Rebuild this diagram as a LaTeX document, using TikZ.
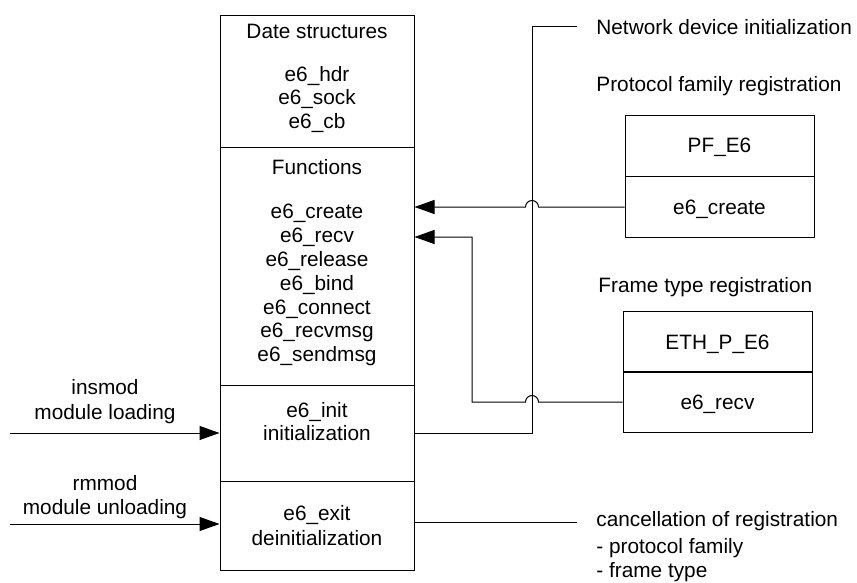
\documentclass[tikz,border=0pt]{standalone}
\usepackage{fontspec}
\setmainfont{Liberation Sans}
\usetikzlibrary{arrows.meta}
\begin{document}
\begin{tikzpicture}[x=0.5pt,y=-0.5pt,
  every node/.style={font=\fontsize{10.4}{12}\selectfont, inner sep=0pt},
  sec/.style={draw=black, line width=0.5pt, minimum width=97pt, inner sep=0pt},
  regbox/.style={draw=black, line width=0.5pt, minimum width=94.5pt, minimum height=30.5pt},
  wire/.style={draw=black, line width=0.5pt},
  arr/.style={wire, -{Triangle[length=10pt,width=7pt]}},
  txt/.style={anchor=base},
  lbl/.style={anchor=base west}
]
\useasboundingbox[fill=white] (0,0) rectangle (857,583);

% main module box, four stacked sections
\node[sec, minimum height=66pt]    (ds)   at (317,82) {};
\node[sec, minimum height=118.5pt] (fn)   at (317,266.5) {};
\node[sec, minimum height=48pt]    (init) at (317,433) {};
\node[sec, minimum height=44.5pt]  (exit) at (317,525.5) {};

\node[txt] (dsT) at (317,38.5)  {Date structures};
\node[txt] (ds1) at (317,81.5)  {e6\_hdr};
\node[txt] (ds2) at (317,104.5) {e6\_sock};
\node[txt] (ds3) at (317,128.5) {e6\_cb};

\node[txt] (fnT) at (317,174.5) {Functions};
\node[txt] (fn1) at (317,218.5) {e6\_create};
\node[txt] (fn2) at (317,242.5) {e6\_recv};
\node[txt] (fn3) at (317,266.5) {e6\_release};
\node[txt] (fn4) at (317,290.5) {e6\_bind};
\node[txt] (fn5) at (317,314.5) {e6\_connect};
\node[txt] (fn6) at (317,337.5) {e6\_recvmsg};
\node[txt] (fn7) at (317,361.5) {e6\_sendmsg};

\node[txt] (in1) at (317,417.5) {e6\_init};
\node[txt] (in2) at (317,440.5) {initialization};
\node[txt] (ex1) at (317,520.5) {e6\_exit};
\node[txt] (ex2) at (317,545.5) {deinitialization};

% registration boxes
\node[regbox] (pft)  at (719.5,146.5) {};
\node[regbox] (pfb)  at (719.5,207)   {};
\node[txt] (pftT) at (719.5,152.5) {PF\_E6};
\node[txt] (pfbT) at (719.5,214.5) {e6\_create};

\node[regbox] (etht) at (717.5,341.5) {};
\node[regbox] (ethb) at (717.5,402)   {};
\node[txt] (ethtT) at (717.5,349.5) {ETH\_P\_E6};
\node[txt] (ethbT) at (717.5,409.5) {e6\_recv};

% right-hand labels
\node[lbl] (ndiT)  at (596,34.5)  {Network device initialization};
\node[lbl] (pfrT)  at (596,91.5)  {Protocol family registration};
\node[lbl] (ftrT)  at (598,292.5) {Frame type registration};
\node[lbl] (cnl1)  at (596,526.5) {cancellation of registration};
\node[lbl] (cnl2)  at (596,553.5) {- protocol family};
\node[lbl] (cnl3)  at (596,577.5) {- frame type};

% left-hand labels
\node[txt] (insT1) at (105,394.5) {insmod};
\node[txt] (insT2) at (105,419.5) {module loading};
\node[txt] (rmT1)  at (105,490.5) {rmmod};
\node[txt] (rmT2)  at (105,514.5) {module unloading};

% routing helpers
\coordinate (vx)  at (532,0);
\coordinate (bx)  at (472,0);
\coordinate (rcv) at (0,237);
\coordinate (ndi) at (577,27);
\coordinate (cnl) at (577,522);
\coordinate (ins) at (10,433);
\coordinate (rm)  at (10,524);

% e6_create registration, hopping over the init line
\draw[arr] (pfb.west) -- ([xshift=3.25pt]pfb.west -| vx)
  arc[start angle=0, end angle=180, radius=3.25pt] -- (pfb.west -| fn.east);

% e6_recv registration
\draw[arr] (ethb.west) -- ([xshift=3.25pt]ethb.west -| vx)
  arc[start angle=0, end angle=180, radius=3.25pt] -- (ethb.west -| bx)
  -- (bx |- rcv) -- (rcv -| fn.east);

% init -> network device initialization
\draw[wire] (init.east) -- (init.east -| vx) -- (vx |- ndi) -- (ndi);

% exit -> cancellation of registration
\draw[wire] (exit.east |- cnl) -- (cnl);

% module loading / unloading
\draw[arr] (ins) -- (ins -| init.west);
\draw[arr] (rm) -- (rm -| exit.west);
\end{tikzpicture}
\end{document}
